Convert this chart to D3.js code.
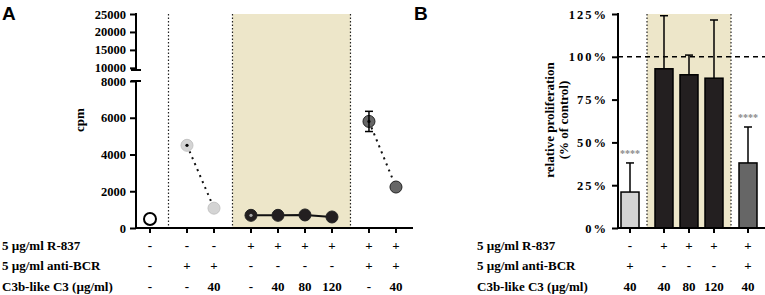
<!DOCTYPE html>
<html>
<head>
<meta charset="utf-8">
<script src="https://cdn.jsdelivr.net/npm/d3@7"></script>
<style>
  body { margin: 0; background: #fff; }
  text { font-family: "Liberation Serif", "Times New Roman", serif; font-weight: bold; }
  .panel { font-family: "Liberation Sans", Arial, sans-serif; font-size: 19px; }
</style>
</head>
<body>
<div id="chart"></div>
<script>
// ---- data: panel A (cpm) ----
var groupsA = [0, 1, 1, 2, 2, 2, 2, 3, 3];
var seriesA = ["ctrl", "bcr", "bcr", "r837", "r837", "r837", "r837", "both", "both"];
var cpm = [490, 4500, 1080, 690, 690, 710, 600, 5800, 2230];
var cpmErr = [0, 70, 0, 70, 0, 0, 0, 550, 0];
var r837A = ["-", "-", "-", "+", "+", "+", "+", "+", "+"];
var bcrA = ["-", "+", "+", "-", "-", "-", "-", "+", "+"];
var c3A = ["-", "-", "40", "-", "40", "80", "120", "-", "40"];
var ticksLowA = [0, 2000, 4000, 6000, 8000];
var ticksHighA = [10000, 15000, 20000, 25000];

// ---- data: panel B (relative proliferation) ----
var groupsB = [0, 1, 1, 1, 2];
var seriesB = ["bcr", "r837", "r837", "r837", "both"];
var relProl = [21, 93, 89.5, 87.5, 38];
var relErr = [17, 31, 11.5, 34, 21];
var starsB = ["****", "", "", "", "****"];
var r837B = ["-", "+", "+", "+", "+"];
var bcrB = ["+", "-", "-", "-", "+"];
var c3B = ["40", "40", "80", "120", "40"];
var ticksB = [0, 25, 50, 75, 100, 125];

var rowLabels = ["5 \u00b5g/ml R-837", "5 \u00b5g/ml anti-BCR", "C3b-like C3 (\u00b5g/ml)"];

var fillColor = { ctrl: "#fff", bcr: "#d4d4d4", r837: "#231f20", both: "#666" };
var shade = "#ede6c9";

var width = 765, height = 295;
var svg = d3.select("#chart").append("svg")
  .attr("width", width)
  .attr("height", height);

var rowY = [246, 266, 287];

// ================= PANEL A =================
var xA = d3.scaleLinear().domain([0, 1]).range([150, 177]);
var posA = function(i) { return xA(i + 0.37 * groupsA[i]); };
var yLow = d3.scaleLinear().domain([0, 8000]).range([228, 81]);
var yHigh = d3.scaleLinear().domain([9400, 25000]).range([70, 14]);
var yA = function(v) { return v <= 8000 ? yLow(v) : yHigh(v); };

var gA = svg.append("g");

// shaded R-837 block
var sepA = [
  (posA(0) + posA(1)) / 2,
  (posA(2) + posA(3)) / 2,
  (posA(6) + posA(7)) / 2
];
gA.append("rect")
  .attr("x", sepA[1]).attr("y", 14)
  .attr("width", sepA[2] - sepA[1]).attr("height", 228 - 14)
  .attr("fill", shade);
gA.selectAll(".sep").data(sepA).enter().append("line")
  .attr("x1", d => d).attr("x2", d => d)
  .attr("y1", 14).attr("y2", 228)
  .attr("stroke", "#222").attr("stroke-width", 1.2)
  .attr("stroke-dasharray", "1.5,2");

// axes
gA.append("g")
  .attr("transform", "translate(136,0)")
  .call(d3.axisLeft(yLow).tickValues(ticksLowA).tickSize(6).tickPadding(4).tickFormat(d3.format("d")))
  .call(g => g.select(".domain").remove());
gA.append("g")
  .attr("transform", "translate(136,0)")
  .call(d3.axisLeft(yHigh).tickValues(ticksHighA).tickSize(6).tickPadding(4).tickFormat(d3.format("d")))
  .call(g => g.select(".domain").remove());
gA.selectAll(".tick line").attr("stroke-width", 2);
gA.selectAll(".tick text").attr("font-size", 12.5).attr("fill", "#000");

gA.append("line").attr("x1", 136).attr("x2", 136).attr("y1", 13).attr("y2", 70)
  .attr("stroke", "#000").attr("stroke-width", 2);
gA.append("line").attr("x1", 136).attr("x2", 136).attr("y1", 81).attr("y2", 229)
  .attr("stroke", "#000").attr("stroke-width", 2);
// break caps
gA.append("line").attr("x1", 131).attr("x2", 141).attr("y1", 70).attr("y2", 70)
  .attr("stroke", "#000").attr("stroke-width", 2);
gA.append("line").attr("x1", 131).attr("x2", 141).attr("y1", 81).attr("y2", 81)
  .attr("stroke", "#000").attr("stroke-width", 2);

// x axis
gA.append("line").attr("x1", 135).attr("x2", 413).attr("y1", 228).attr("y2", 228)
  .attr("stroke", "#000").attr("stroke-width", 2);
gA.selectAll(".xt").data(cpm).enter().append("line")
  .attr("x1", (d, i) => posA(i)).attr("x2", (d, i) => posA(i))
  .attr("y1", 228).attr("y2", 233)
  .attr("stroke", "#000").attr("stroke-width", 2);

gA.append("text")
  .attr("transform", "translate(84,120) rotate(-90)")
  .attr("text-anchor", "middle")
  .attr("font-size", 13)
  .text("cpm");

// connecting lines per group
[1, 2, 3].forEach(function(gr) {
  var idx = d3.range(cpm.length).filter(i => groupsA[i] === gr);
  var line = d3.line().x(i => posA(i)).y(i => yA(cpm[i]));
  gA.append("path")
    .datum(idx)
    .attr("d", line)
    .attr("fill", "none")
    .attr("stroke", "#111")
    .attr("stroke-width", 2)
    .attr("stroke-dasharray", gr === 2 ? null : "2,4.5");
});

// points
gA.selectAll(".pt").data(cpm).enter().append("circle")
  .attr("cx", (d, i) => posA(i))
  .attr("cy", d => yA(d))
  .attr("r", 6)
  .attr("fill", (d, i) => fillColor[seriesA[i]])
  .attr("stroke", (d, i) => seriesA[i] === "ctrl" ? "#000" : (seriesA[i] === "bcr" ? "#c4c4c4" : "#222"))
  .attr("stroke-width", (d, i) => seriesA[i] === "ctrl" ? 2 : 1);

// error bars (small ones vanish inside the marker, leaving a dot)
var errIdx = d3.range(cpm.length).filter(i => cpmErr[i] > 0);
errIdx.forEach(function(i) {
  var x = posA(i), y0 = yA(cpm[i] - cpmErr[i]), y1 = yA(cpm[i] + cpmErr[i]);
  var c = seriesA[i] === "r837" ? "#aaa" : "#000";
  if (cpmErr[i] < 200) {
    gA.append("circle").attr("cx", x).attr("cy", yA(cpm[i])).attr("r", 1.6).attr("fill", c);
    return;
  }
  gA.append("line").attr("x1", x).attr("x2", x).attr("y1", y0).attr("y2", y1)
    .attr("stroke", c).attr("stroke-width", 1.5);
  gA.append("line").attr("x1", x - 4).attr("x2", x + 4).attr("y1", y0).attr("y2", y0)
    .attr("stroke", c).attr("stroke-width", 1.5);
  gA.append("line").attr("x1", x - 4).attr("x2", x + 4).attr("y1", y1).attr("y2", y1)
    .attr("stroke", c).attr("stroke-width", 1.5);
  gA.append("circle").attr("cx", x).attr("cy", yA(cpm[i])).attr("r", 1.6).attr("fill", c);
});

// condition rows
[r837A, bcrA, c3A].forEach(function(row, r) {
  gA.selectAll(".row" + r).data(row).enter().append("text")
    .attr("x", (d, i) => posA(i))
    .attr("y", rowY[r] + 4)
    .attr("text-anchor", "middle")
    .attr("font-size", 13)
    .text(d => d);
  gA.append("text")
    .attr("x", 2).attr("y", rowY[r] + 4)
    .attr("font-size", 13)
    .text(rowLabels[r]);
});

svg.append("text").attr("class", "panel").attr("x", 2).attr("y", 20).text("A");

// ================= PANEL B =================
var xB = d3.scaleLinear().domain([0, 1]).range([630, 655]);
var posB = function(i) { return xB(i + 0.36 * groupsB[i]); };
var yB = d3.scaleLinear().domain([0, 125]).range([228, 14]);
var barW = 18;

var gB = svg.append("g");
var sepB = [(posB(0) + posB(1)) / 2, (posB(3) + posB(4)) / 2];
gB.append("rect")
  .attr("x", sepB[0]).attr("y", 14)
  .attr("width", sepB[1] - sepB[0]).attr("height", 228 - 14)
  .attr("fill", shade);
gB.selectAll(".sep").data(sepB).enter().append("line")
  .attr("x1", d => d).attr("x2", d => d)
  .attr("y1", 14).attr("y2", 228)
  .attr("stroke", "#222").attr("stroke-width", 1.2)
  .attr("stroke-dasharray", "1.5,2");

// error bars (upper only)
gB.selectAll(".eb").data(relProl).enter().append("line")
  .attr("x1", (d, i) => posB(i)).attr("x2", (d, i) => posB(i))
  .attr("y1", d => yB(d)).attr("y2", (d, i) => yB(d + relErr[i]))
  .attr("stroke", "#000").attr("stroke-width", 1.5);
gB.selectAll(".ebc").data(relProl).enter().append("line")
  .attr("x1", (d, i) => posB(i) - 4).attr("x2", (d, i) => posB(i) + 4)
  .attr("y1", (d, i) => yB(d + relErr[i])).attr("y2", (d, i) => yB(d + relErr[i]))
  .attr("stroke", "#000").attr("stroke-width", 1.5);

gB.selectAll(".bar").data(relProl).enter().append("rect")
  .attr("x", (d, i) => posB(i) - barW / 2)
  .attr("y", d => yB(d))
  .attr("width", barW)
  .attr("height", d => yB(0) - yB(d))
  .attr("fill", (d, i) => fillColor[seriesB[i]])
  .attr("stroke", "#000")
  .attr("stroke-width", 1.5);

gB.selectAll(".star").data(starsB).enter().append("text")
  .attr("x", (d, i) => posB(i))
  .attr("y", (d, i) => yB(relProl[i] + relErr[i]) - 6)
  .attr("text-anchor", "middle")
  .attr("font-size", 10)
  .attr("fill", "#8a8a8a")
  .text(d => d);

// 100% reference
gB.append("line").attr("x1", 618).attr("x2", 765).attr("y1", yB(100)).attr("y2", yB(100))
  .attr("stroke", "#000").attr("stroke-width", 1.5).attr("stroke-dasharray", "5,4");

// axes
var axB = gB.append("g")
  .attr("transform", "translate(618,0)")
  .call(d3.axisLeft(yB).tickValues(ticksB).tickSize(6).tickPadding(4)
    .tickFormat(d => d + "%"));
axB.select(".domain").attr("stroke-width", 2).attr("d", "M0," + (yB(125) - 1) + "V" + (yB(0) + 1));
axB.selectAll(".tick line").attr("stroke-width", 2);
axB.selectAll(".tick text").attr("font-size", 12.5).attr("letter-spacing", 2).attr("fill", "#000");

gB.append("line").attr("x1", 617).attr("x2", 765).attr("y1", 228).attr("y2", 228)
  .attr("stroke", "#000").attr("stroke-width", 2);
gB.selectAll(".xt").data(relProl).enter().append("line")
  .attr("x1", (d, i) => posB(i)).attr("x2", (d, i) => posB(i))
  .attr("y1", 228).attr("y2", 233)
  .attr("stroke", "#000").attr("stroke-width", 2);

var ylab = gB.append("text")
  .attr("transform", "translate(557,120) rotate(-90)")
  .attr("text-anchor", "middle")
  .attr("font-size", 13);
ylab.append("tspan").attr("x", 0).attr("dy", -3).text("relative proliferation");
ylab.append("tspan").attr("x", 0).attr("dy", 14).text("(% of control)");

[r837B, bcrB, c3B].forEach(function(row, r) {
  gB.selectAll(".row" + r).data(row).enter().append("text")
    .attr("x", (d, i) => posB(i))
    .attr("y", rowY[r] + 4)
    .attr("text-anchor", "middle")
    .attr("font-size", 13)
    .text(d => d);
  gB.append("text")
    .attr("x", 477).attr("y", rowY[r] + 4)
    .attr("font-size", 13)
    .text(rowLabels[r]);
});

svg.append("text").attr("class", "panel").attr("x", 414).attr("y", 20).text("B");
</script>
</body>
</html>
